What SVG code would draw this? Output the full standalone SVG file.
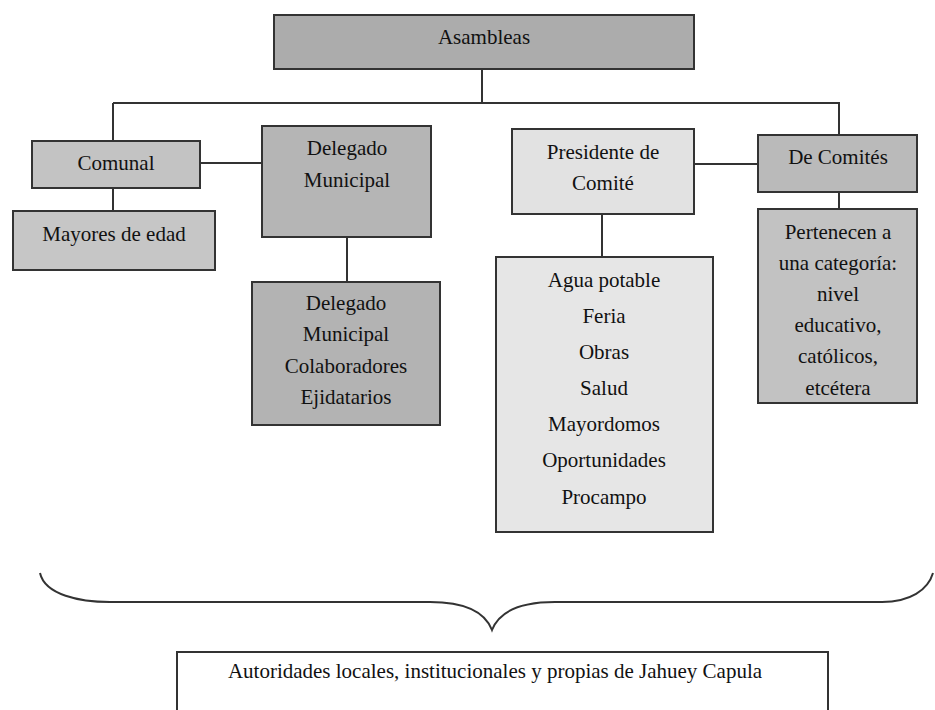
<svg xmlns="http://www.w3.org/2000/svg" width="935" height="710" viewBox="0 0 935 710">
<style>
.box{stroke:#333;stroke-width:2}
.t{font-family:"Liberation Serif","Times New Roman",serif;font-size:21px;fill:#111;text-anchor:middle}
.c{stroke:#333;stroke-width:2;fill:none}
</style>
<rect width="935" height="710" fill="#fff"/>
<g id="connectors">
<line class="c" x1="482" y1="69" x2="482" y2="103"/>
<line class="c" x1="113" y1="103" x2="840" y2="103"/>
<line class="c" x1="113" y1="103" x2="113" y2="141"/>
<line class="c" x1="839" y1="103" x2="839" y2="135"/>
<line class="c" x1="113" y1="188" x2="113" y2="211"/>
<line class="c" x1="200" y1="163" x2="262" y2="163"/>
<line class="c" x1="347" y1="237" x2="347" y2="282"/>
<line class="c" x1="694" y1="164" x2="758" y2="164"/>
<line class="c" x1="602" y1="214" x2="602" y2="257"/>
<line class="c" x1="839" y1="192" x2="839" y2="209"/>
<path class="c" stroke="#555" d="M 40 573 C 45 595, 80 602, 110 602 L 430 602 C 465 602, 485 612, 492 630 C 499 612, 520 602, 555 602 L 882 602 C 910 602, 928 590, 933 573"/>
</g>
<g id="asambleas"><rect class="box" x="274" y="15" width="420" height="54" fill="#acacac"/><text class="t" x="484" y="44">Asambleas</text></g>
<g id="comunal"><rect class="box" x="32" y="141" width="168" height="47" fill="#c3c3c3"/><text class="t" x="116" y="170">Comunal</text></g>
<g id="mayores"><rect class="box" x="13" y="211" width="202" height="59" fill="#c6c6c6"/><text class="t" x="114" y="241">Mayores de edad</text></g>
<g id="delegado"><rect class="box" x="262" y="126" width="169" height="111" fill="#b5b5b5"/><text class="t" x="347" y="155">Delegado</text><text class="t" x="347" y="187">Municipal</text></g>
<g id="delegado-lista"><rect class="box" x="252" y="282" width="188" height="143" fill="#b3b3b3"/><text class="t" x="346" y="310">Delegado</text><text class="t" x="346" y="341">Municipal</text><text class="t" x="346" y="373">Colaboradores</text><text class="t" x="346" y="404">Ejidatarios</text></g>
<g id="presidente"><rect class="box" x="512" y="129" width="182" height="85" fill="#e2e2e2"/><text class="t" x="603" y="159">Presidente de</text><text class="t" x="603" y="190">Comité</text></g>
<g id="comites-lista"><rect class="box" x="496" y="257" width="217" height="275" fill="#e6e6e6"/><text class="t" x="604" y="287">Agua potable</text><text class="t" x="604" y="323">Feria</text><text class="t" x="604" y="359">Obras</text><text class="t" x="604" y="395">Salud</text><text class="t" x="604" y="431">Mayordomos</text><text class="t" x="604" y="467">Oportunidades</text><text class="t" x="604" y="504">Procampo</text></g>
<g id="de-comites"><rect class="box" x="758" y="135" width="159" height="57" fill="#bababa"/><text class="t" x="838" y="164">De Comités</text></g>
<g id="pertenecen"><rect class="box" x="758" y="209" width="159" height="194" fill="#c2c2c2"/><text class="t" x="838" y="239">Pertenecen a</text><text class="t" x="838" y="270">una categoría:</text><text class="t" x="838" y="301">nivel</text><text class="t" x="838" y="332">educativo,</text><text class="t" x="838" y="363">católicos,</text><text class="t" x="838" y="395">etcétera</text></g>
<g id="autoridades"><rect class="box" x="177" y="652" width="651" height="80" fill="#fff"/><text class="t" x="495" y="678">Autoridades locales, institucionales y propias de Jahuey Capula</text></g>
</svg>
